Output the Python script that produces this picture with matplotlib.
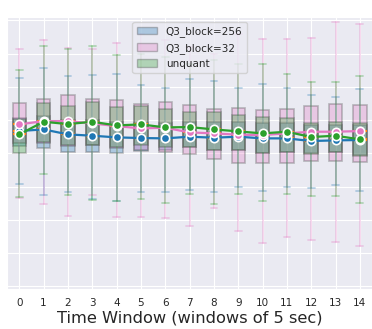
import matplotlib
matplotlib.use("Agg")
import matplotlib.pyplot as plt
from matplotlib.patches import Patch
import seaborn as sns

windows = list(range(15))
labels = ["Q3_block=256", "Q3_block=32", "unquant"]
colors = ["tab:blue", "tab:pink", "tab:green"]

# Q3_block=256
b256_med = [4.67, 4.72, 4.57, 4.53, 4.48, 4.46, 4.45, 4.50, 4.47, 4.50, 4.45, 4.45, 4.37, 4.39, 4.40]
b256_q1 = [4.22, 4.15, 4.03, 4.03, 4.00, 4.07, 4.10, 4.20, 4.10, 4.10, 4.00, 4.05, 4.00, 4.05, 3.95]
b256_q3 = [5.05, 5.12, 5.00, 5.00, 4.95, 4.90, 4.90, 4.95, 4.95, 4.95, 4.90, 4.90, 4.85, 4.85, 4.85]
b256_lo = [3.07, 2.75, 2.85, 2.62, 2.57, 2.85, 2.85, 2.91, 2.85, 2.98, 2.88, 3.00, 2.97, 3.04, 2.86]
b256_hi = [6.26, 6.58, 6.33, 6.37, 6.39, 6.05, 5.97, 6.23, 6.17, 5.98, 6.10, 5.98, 5.76, 5.71, 5.93]

# Q3_block=32
b32_med = [4.87, 4.97, 4.97, 4.90, 4.82, 4.75, 4.77, 4.63, 4.60, 4.56, 4.55, 4.60, 4.65, 4.65, 4.67]
b32_q1 = [4.30, 4.30, 4.22, 4.25, 4.15, 4.10, 4.03, 3.97, 3.82, 3.72, 3.70, 3.72, 3.78, 3.78, 3.73]
b32_q3 = [5.50, 5.65, 5.77, 5.65, 5.61, 5.49, 5.55, 5.45, 5.33, 5.35, 5.30, 5.32, 5.41, 5.49, 5.45]
b32_lo = [2.66, 2.48, 2.12, 2.75, 2.07, 2.07, 2.04, 1.80, 2.34, 1.66, 1.30, 1.49, 1.38, 1.33, 1.22]
b32_hi = [7.14, 7.42, 7.18, 7.15, 7.32, 7.60, 7.40, 7.20, 7.00, 7.60, 7.44, 7.45, 7.47, 7.96, 7.88]

# unquant
unq_med = [4.57, 4.95, 4.88, 4.95, 4.84, 4.87, 4.78, 4.79, 4.72, 4.66, 4.60, 4.65, 4.49, 4.53, 4.42]
unq_q1 = [4.02, 4.35, 4.25, 4.25, 4.20, 4.25, 4.18, 4.20, 4.10, 4.10, 4.00, 4.05, 3.98, 4.05, 3.93]
unq_q3 = [5.04, 5.50, 5.42, 5.53, 5.38, 5.42, 5.32, 5.25, 5.23, 5.15, 5.08, 5.05, 4.90, 4.95, 4.90]
unq_lo = [2.68, 3.38, 2.75, 2.60, 2.57, 2.62, 2.51, 2.79, 2.47, 2.79, 2.57, 2.79, 2.72, 2.73, 2.49]
unq_hi = [6.52, 7.22, 7.15, 7.22, 6.95, 7.00, 6.90, 6.70, 6.80, 6.70, 6.68, 6.39, 6.15, 6.15, 6.33]

groups = [
    (b256_med, b256_q1, b256_q3, b256_lo, b256_hi),
    (b32_med, b32_q1, b32_q3, b32_lo, b32_hi),
    (unq_med, unq_q1, unq_q3, unq_lo, unq_hi),
]

sns.set_style("darkgrid")
plt.rcParams['font.family'] = ['DejaVu Sans']

fig = plt.figure(figsize=(3.72, 3.29), dpi=100)
ax = fig.add_axes([0.019, 0.122, 0.981, 0.826])

for (med, q1, q3, lo, hi), c in zip(groups, colors):
    stats = [dict(med=m, q1=a, q3=b, whislo=l, whishi=h, fliers=[])
             for m, a, b, l, h in zip(med, q1, q3, lo, hi)]
    ax.bxp(stats, positions=windows, widths=0.55, patch_artist=True,
           showfliers=False, manage_ticks=False,
           boxprops=dict(facecolor=(matplotlib.colors.to_rgba(c, 0.3)),
                         edgecolor=(0.3, 0.3, 0.3, 0.35), lw=1.2),
           whiskerprops=dict(color=c, alpha=0.3, lw=1.3),
           capprops=dict(color=c, alpha=0.3, lw=1.3),
           medianprops=dict(color='tab:orange', lw=1.5))

# median lines on top of the boxes
for (med, q1, q3, lo, hi), c in zip(groups, colors):
    ax.plot(windows, med, color=c, marker='o', ms=6, mec='white', mew=1.2,
            lw=1.6, zorder=5)

ax.set_xlim(-0.5, 14.5)
ax.set_ylim(-0.08, 8.1)
ax.set_xticks(windows)
ax.set_yticks(range(9))
ax.set_yticklabels([])
ax.tick_params(axis='x', labelsize=7.5, pad=3)
ax.set_xlabel("Time Window (windows of 5 sec)", fontsize=11.7, labelpad=2)

handles = [Patch(facecolor=matplotlib.colors.to_rgba(c, 0.3),
                 edgecolor=(0.3, 0.3, 0.3, 0.35)) for c in colors]
ax.legend(handles, labels, loc='upper center', fontsize=7.5)

fig.savefig("out.png", dpi=100)
